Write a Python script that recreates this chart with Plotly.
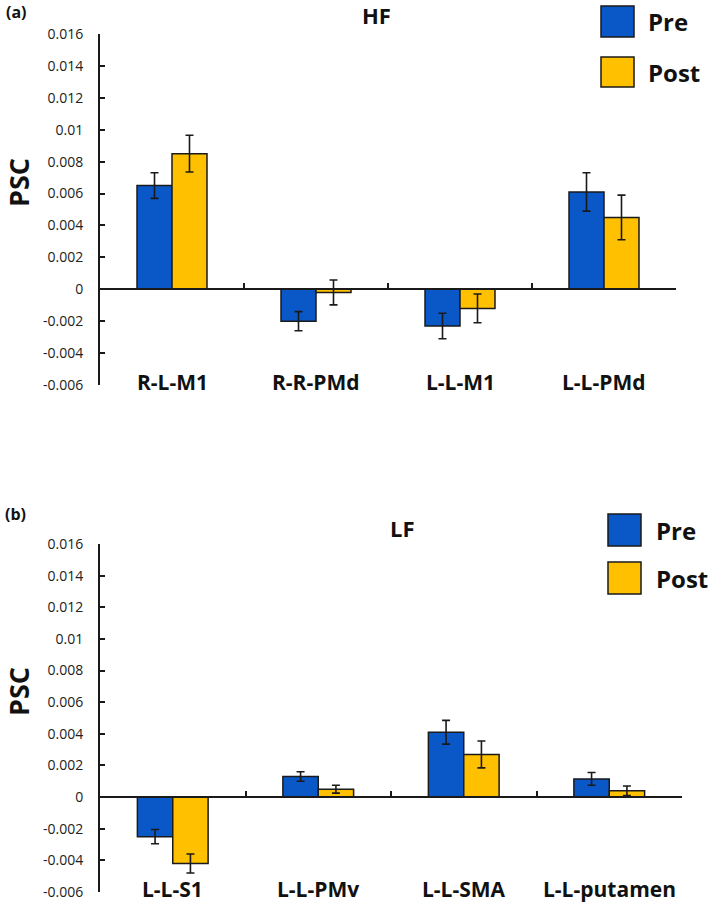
import plotly.graph_objects as go

W, H = 709, 902

# ---------------- data ----------------
series_names = ["Pre", "Post"]
series_colors = ["#0A58C8", "#FFC000"]

hf_categories = ["R-L-M1", "R-R-PMd", "L-L-M1", "L-L-PMd"]
hf_pre = [0.0065, -0.0020, -0.0023, 0.0061]
hf_pre_err = [0.0008, 0.0006, 0.0008, 0.0012]
hf_post = [0.0085, -0.0002, -0.0012, 0.0045]
hf_post_err = [0.00115, 0.00078, 0.0009, 0.0014]

lf_categories = ["L-L-S1", "L-L-PMv", "L-L-SMA", "L-L-putamen"]
lf_pre = [-0.0025, 0.0013, 0.0041, 0.00115]
lf_pre_err = [0.00045, 0.0003, 0.00075, 0.0004]
lf_post = [-0.0042, 0.0005, 0.0027, 0.0004]
lf_post_err = [0.0006, 0.00025, 0.00085, 0.0003]

y_tickvals = [-0.006, -0.004, -0.002, 0, 0.002, 0.004, 0.006, 0.008, 0.01, 0.012, 0.014, 0.016]
y_ticktext = ["-0.006", "-0.004", "-0.002", "0", "0.002", "0.004", "0.006", "0.008",
              "0.01", "0.012", "0.014", "0.016"]
y_range = [-0.006, 0.016]
y_title = "PSC"
panel_titles = ["HF", "LF"]
panel_labels = ["(a)", "(b)"]

# ---------------- helpers ----------------
def px(x):
    return x / W

def py(y):
    return 1 - y / H

FONT = "Open Sans"
INK = "#1a1a1a"

fig = go.Figure()

panels = [
    dict(cats=hf_categories, pre=hf_pre, pre_err=hf_pre_err, post=hf_post, post_err=hf_post_err,
         xdom=[px(100), px(676)], ydom=[py(385), py(34)], xa="x", ya="y"),
    dict(cats=lf_categories, pre=lf_pre, pre_err=lf_pre_err, post=lf_post, post_err=lf_post_err,
         xdom=[px(100), px(682)], ydom=[py(892), py(544)], xa="x2", ya="y2"),
]

layout_axes = {}
annotations = []
shapes = []

for i, p in enumerate(panels):
    for name, vals, errs, col in [(series_names[0], p["pre"], p["pre_err"], series_colors[0]),
                                  (series_names[1], p["post"], p["post_err"], series_colors[1])]:
        fig.add_trace(go.Bar(
            x=p["cats"], y=vals, name=name,
            marker=dict(color=col, line=dict(color=INK, width=1.5)),
            error_y=dict(type="data", array=errs, color=INK, thickness=1.6, width=4),
            xaxis=p["xa"], yaxis=p["ya"], showlegend=False,
        ))
    d0, d1 = p["ydom"]
    zero_pos = d0 + (d1 - d0) * (0 - y_range[0]) / (y_range[1] - y_range[0])
    xkey = "xaxis" if i == 0 else "xaxis2"
    ykey = "yaxis" if i == 0 else "yaxis2"
    layout_axes[xkey] = dict(
        domain=p["xdom"], anchor="free", position=zero_pos,
        type="category", range=[-0.5, 3.5], automargin=False,
        showline=True, linecolor=INK, linewidth=1.8,
        ticks="inside", tickson="boundaries", ticklen=5, tickwidth=1.6, tickcolor=INK,
        showticklabels=False, showgrid=False, zeroline=False, fixedrange=True,
    )
    layout_axes[ykey] = dict(
        domain=p["ydom"], anchor=p["xa"], range=y_range, automargin=False,
        tickvals=y_tickvals, ticktext=y_ticktext,
        ticks="inside", ticklen=5, tickwidth=1.6, tickcolor=INK,
        showline=True, linecolor=INK, linewidth=2,
        showgrid=False, zeroline=False, fixedrange=True,
        tickfont=dict(family=FONT, size=14, color="#222222"),
        ticklabelstandoff=12,
    )
    # category labels at the bottom of the axis
    for c in p["cats"]:
        annotations.append(dict(
            x=c, y=y_range[0], xref=p["xa"], yref=p["ya"], text=f"<b>{c}</b>",
            showarrow=False, yanchor="middle", xanchor="center", yshift=3,
            font=dict(family=FONT, size=21, color="#111111"),
        ))

# panel labels, titles, y titles
text_items = [
    (f"<b>{panel_labels[0]}</b>", 4, 12, "left", 16),
    (f"<b>{panel_labels[1]}</b>", 3, 514, "left", 16),
    (f"<b>{panel_titles[0]}</b>", 377, 15, "center", 22),
    (f"<b>{panel_titles[1]}</b>", 402, 528, "center", 22),
]
for t, x, y, xa, s in text_items:
    annotations.append(dict(x=px(x), y=py(y), xref="paper", yref="paper", text=t,
                            showarrow=False, xanchor=xa, yanchor="middle",
                            font=dict(family=FONT, size=s, color="#111111")))
for x, y in [(18, 183), (18, 692)]:
    annotations.append(dict(x=px(x), y=py(y), xref="paper", yref="paper", text=f"<b>{y_title}</b>",
                            showarrow=False, textangle=-90, xanchor="center", yanchor="middle",
                            font=dict(family=FONT, size=27, color="#111111")))

# legends (manual, large square swatches)
legend_specs = [
    (601, [(6, 37), (57, 87)], 646),
    (608, [(514, 546), (562, 594)], 654),
]
for bx, rows, tx in legend_specs:
    for (y0, y1), name, col in zip(rows, series_names, series_colors):
        shapes.append(dict(type="rect", xref="paper", yref="paper",
                           x0=px(bx), x1=px(bx + 33), y0=py(y1), y1=py(y0),
                           fillcolor=col, line=dict(color=INK, width=1.5)))
        annotations.append(dict(x=px(tx), y=py((y0 + y1) / 2), xref="paper", yref="paper",
                                text=f"<b>{name}</b>", showarrow=False, xanchor="left",
                                yanchor="middle",
                                font=dict(family=FONT, size=24, color="#111111")))

fig.update_layout(
    width=W, height=H,
    margin=dict(l=0, r=0, t=0, b=0, autoexpand=False),
    paper_bgcolor="white", plot_bgcolor="white",
    barmode="group", bargap=0.514, bargroupgap=0,
    annotations=annotations, shapes=shapes,
    showlegend=False, hovermode=False,
    **layout_axes,
)

# remove the default 8px page margin so the figure fills the browser window
fig.write_html("out.html", config={"displayModeBar": False},
               post_script="document.body.style.margin='0px';")
